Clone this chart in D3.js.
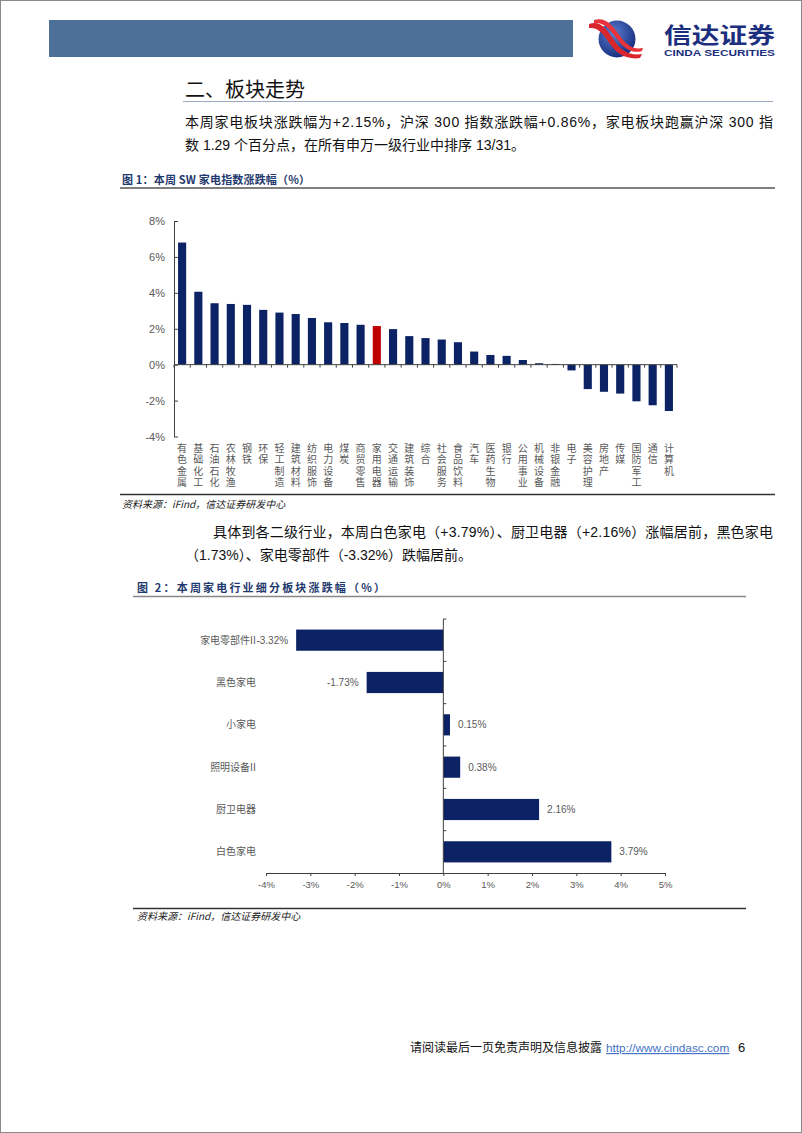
<!DOCTYPE html>
<html><head><meta charset="utf-8">
<script src="https://cdn.jsdelivr.net/npm/d3@7"></script>
<style>body{margin:0;background:#fff} svg{display:block}</style>
</head><body><svg id="page" width="802" height="1133"></svg>
<script>
// ---------- data ----------
const industries = ["有色金属","基础化工","石油石化","农林牧渔","钢铁","环保","轻工制造","建筑材料","纺织服饰","电力设备","煤炭","商贸零售","家用电器","交通运输","建筑装饰","综合","社会服务","食品饮料","汽车","医药生物","银行","公用事业","机械设备","非银金融","电子","美容护理","房地产","传媒","国防军工","通信","计算机"];
const industryChange = [6.80,4.06,3.42,3.38,3.33,3.05,2.90,2.82,2.60,2.36,2.32,2.22,2.15,1.98,1.59,1.48,1.40,1.25,0.73,0.54,0.49,0.26,0.08,0.04,-0.32,-1.36,-1.51,-1.61,-2.04,-2.26,-2.58];
const highlightIndustry = "家用电器";
const yTicks1 = [-4,-2,0,2,4,6,8];
const subSectors = ["家电零部件II","黑色家电","小家电","照明设备II","厨卫电器","白色家电"];
const subChange = [-3.32,-1.73,0.15,0.38,2.16,3.79];
const xTicks2 = [-4,-3,-2,-1,0,1,2,3,4,5];

const sectionTitle = "二、板块走势";
const para1 = ["本周家电板块涨跌幅为+2.15%，沪深 300 指数涨跌幅+0.86%，家电板块跑赢沪深 300 指",
               "数 1.29 个百分点，在所有申万一级行业中排序 13/31。"];
const para2 = ["具体到各二级行业，本周白色家电（+3.79%）、厨卫电器（+2.16%）涨幅居前，黑色家电",
               "（1.73%）、家电零部件（-3.32%）跌幅居前。"];
const fig1Title = "图 1：本周 SW 家电指数涨跌幅（%）";
const fig2Title = "图 2：本周家电行业细分板块涨跌幅（%）";
const sourceText = "资料来源：iFind，信达证券研发中心";

// ---------- styles ----------
const NAVY = "#0b2264", RED = "#c00000", GRAY = "#595959", AXIS = "#404040";
const FONT = "'Liberation Sans','Noto Sans CJK SC',sans-serif";
const CJK = "'Noto Sans CJK SC','Liberation Sans',sans-serif";

const svg = d3.select("#page");
svg.append("rect").attr("x",0.5).attr("y",0.5).attr("width",801).attr("height",1132)
   .attr("fill","#fff").attr("stroke","#8a8a8a");

// ---------- header ----------
svg.append("rect").attr("x",49).attr("y",20).attr("width",524).attr("height",37).attr("fill","#4d7098");
const defs = svg.append("defs");
const rg = defs.append("radialGradient").attr("id","lg").attr("cx","40%").attr("cy","35%").attr("r","70%");
rg.append("stop").attr("offset","0%").attr("stop-color","#5a7fd0");
rg.append("stop").attr("offset","100%").attr("stop-color","#142a7c");
const logo = svg.append("g");
logo.append("circle").attr("cx",617).attr("cy",39).attr("r",18.5).attr("fill","url(#lg)");
logo.append("path").attr("d","M589,24 C600,20 606,28 614,40 C621,51 630,56 642,54 L640,58 C627,60 617,54 610,44 C603,33 598,27 589,28 Z").attr("fill","#d9252c");
logo.append("path").attr("d","M594,20 C606,17 612,25 620,36 C627,46 634,50 643,48 L642,51 C633,54 624,49 617,39 C610,29 604,22 594,23 Z").attr("fill","#e8333a");
svg.append("text").attr("x",664).attr("y",43).attr("font-family",CJK).attr("font-weight","bold")
   .attr("font-size",22).attr("fill","#1b2f7e").attr("textLength",111).attr("lengthAdjust","spacingAndGlyphs").text("信达证券");
svg.append("text").attr("x",664).attr("y",56).attr("font-family",FONT).attr("font-weight","bold")
   .attr("font-size",9).attr("fill","#1b2f7e").attr("textLength",111).attr("lengthAdjust","spacingAndGlyphs").text("CINDA SECURITIES");

// ---------- section title & paragraph ----------
svg.append("text").attr("x",185).attr("y",97).attr("font-family",CJK).attr("font-size",20).attr("fill","#111").text(sectionTitle);
svg.append("line").attr("x1",183).attr("x2",773).attr("y1",101.5).attr("y2",101.5).attr("stroke","#9aa9bf").attr("stroke-width",1);
svg.append("text").attr("x",185).attr("y",127).attr("font-family",FONT).attr("font-size",14).attr("fill","#111")
   .attr("textLength",588).attr("lengthAdjust","spacing").text(para1[0]);
svg.append("text").attr("x",185).attr("y",150).attr("font-family",FONT).attr("font-size",14).attr("fill","#111").text(para1[1]);

// ---------- figure 1 ----------
svg.append("text").attr("x",122).attr("y",184).attr("font-family",CJK).attr("font-weight","bold").attr("font-size",11)
   .attr("fill","#1f3a6e").attr("textLength",188).attr("lengthAdjust","spacing").text(fig1Title);
svg.append("line").attr("x1",120).attr("x2",775).attr("y1",188).attr("y2",188).attr("stroke","#555").attr("stroke-width",1.5);

const x1 = d3.scaleBand().domain(industries).range([174,677]).paddingInner(0.5).paddingOuter(0.25);
const y1 = d3.scaleLinear().domain([-4,8]).range([436.5,221]);
const c1 = svg.append("g");

c1.selectAll("rect.bar").data(industries).join("rect").attr("class","bar")
  .attr("x",d=>x1(d)).attr("width",x1.bandwidth())
  .attr("y",(d,i)=>y1(Math.max(0,industryChange[i])))
  .attr("height",(d,i)=>Math.abs(y1(industryChange[i])-y1(0)))
  .attr("fill",d=>d===highlightIndustry?RED:NAVY);

const yAxis1 = c1.append("g").attr("transform","translate(174,0)")
  .call(d3.axisLeft(y1).tickValues(yTicks1).tickFormat(d=>d+"%").tickSizeInner(-4).tickSizeOuter(0).tickPadding(9));
yAxis1.select(".domain").attr("stroke",AXIS);
yAxis1.selectAll(".tick line").attr("stroke",AXIS);
yAxis1.selectAll("text").attr("font-family",FONT).attr("font-size",11).attr("fill",GRAY);

// zero baseline with category boundary ticks
const r1 = x1.range();
c1.append("line").attr("x1",r1[0]).attr("x2",r1[1]).attr("y1",y1(0)).attr("y2",y1(0)).attr("stroke",AXIS);
c1.selectAll("line.bt").data(d3.range(industries.length+1)).join("line").attr("class","bt")
  .attr("x1",i=>r1[0]+i*x1.step()).attr("x2",i=>r1[0]+i*x1.step())
  .attr("y1",y1(0)).attr("y2",y1(0)+3).attr("stroke",AXIS);

// vertical category labels (vertical writing mode)
c1.selectAll("text.cat").data(industries).join("text").attr("class","cat")
  .attr("x",d=>x1(d)+x1.bandwidth()/2).attr("y",443)
  .style("writing-mode","vertical-rl").style("text-orientation","upright")
  .attr("letter-spacing",1.5)
  .attr("font-family",CJK).attr("font-size",10).attr("fill",GRAY).text(d=>d);

svg.append("line").attr("x1",120).attr("x2",775).attr("y1",494.5).attr("y2",494.5).attr("stroke","#333").attr("stroke-width",1.5);
svg.append("text").attr("x",122).attr("y",508).attr("font-family",CJK).attr("font-style","italic").attr("font-size",10)
   .attr("fill","#222").text(sourceText);

// ---------- paragraph 2 ----------
svg.append("text").attr("x",213).attr("y",537).attr("font-family",FONT).attr("font-size",14).attr("fill","#111")
   .attr("textLength",560).attr("lengthAdjust","spacing").text(para2[0]);
svg.append("text").attr("x",185).attr("y",560).attr("font-family",FONT).attr("font-size",14).attr("fill","#111").text(para2[1]);

// ---------- figure 2 ----------
svg.append("text").attr("x",137).attr("y",592).attr("font-family",CJK).attr("font-weight","bold").attr("font-size",11)
   .attr("fill","#1f3a6e").attr("textLength",248).attr("lengthAdjust","spacing").text(fig2Title);
svg.append("line").attr("x1",133).attr("x2",746).attr("y1",596.5).attr("y2",596.5).attr("stroke","#888").attr("stroke-width",1.5);

const x2 = d3.scaleLinear().domain([-4,5]).range([266,665]);
const y2 = d3.scaleBand().domain(subSectors).range([619,873]).paddingInner(0.5).paddingOuter(0.25);
const c2 = svg.append("g");

c2.selectAll("rect.bar").data(subSectors).join("rect").attr("class","bar")
  .attr("y",d=>y2(d)).attr("height",y2.bandwidth())
  .attr("x",(d,i)=>x2(Math.min(0,subChange[i])))
  .attr("width",(d,i)=>Math.abs(x2(subChange[i])-x2(0)))
  .attr("fill",NAVY);

const xAxis2 = c2.append("g").attr("transform","translate(0,873)")
  .call(d3.axisBottom(x2).tickValues(xTicks2).tickFormat(d=>d+"%").tickSizeInner(3).tickSizeOuter(0).tickPadding(5));
xAxis2.select(".domain").attr("stroke",AXIS);
xAxis2.selectAll(".tick line").attr("stroke",AXIS);
xAxis2.selectAll("text").attr("font-family",FONT).attr("font-size",9.5).attr("fill",GRAY);

const r2 = y2.range();
c2.append("line").attr("x1",x2(0)).attr("x2",x2(0)).attr("y1",r2[0]).attr("y2",r2[1]).attr("stroke",AXIS);
c2.selectAll("line.bt").data(d3.range(subSectors.length)).join("line").attr("class","bt")
  .attr("x1",x2(0)).attr("x2",x2(0)+3)
  .attr("y1",i=>r2[0]+i*y2.step()).attr("y2",i=>r2[0]+i*y2.step()).attr("stroke",AXIS);

c2.selectAll("text.cat").data(subSectors).join("text").attr("class","cat")
  .attr("x",256).attr("y",d=>y2(d)+y2.bandwidth()/2).attr("dy","0.35em")
  .attr("text-anchor","end").attr("font-family",CJK).attr("font-size",10).attr("fill",GRAY).text(d=>d);

c2.selectAll("text.val").data(subChange).join("text").attr("class","val")
  .attr("x",d=>d<0? x2(d)-8 : x2(d)+8)
  .attr("y",(d,i)=>y2(subSectors[i])+y2.bandwidth()/2).attr("dy","0.35em")
  .attr("text-anchor",d=>d<0?"end":"start").attr("font-family",FONT).attr("font-size",10).attr("fill",GRAY)
  .text(d=>d.toFixed(2)+"%");

svg.append("line").attr("x1",133).attr("x2",746).attr("y1",908.5).attr("y2",908.5).attr("stroke","#333").attr("stroke-width",1.5);
svg.append("text").attr("x",137).attr("y",920).attr("font-family",CJK).attr("font-style","italic").attr("font-size",10)
   .attr("fill","#222").text(sourceText);

// ---------- footer ----------
svg.append("text").attr("x",410).attr("y",1052).attr("font-family",CJK).attr("font-size",12).attr("fill","#111")
   .attr("textLength",192).attr("lengthAdjust","spacingAndGlyphs").text("请阅读最后一页免责声明及信息披露");
svg.append("text").attr("x",606).attr("y",1052).attr("font-family",FONT).attr("font-size",11.8).attr("fill","#4472c4")
   .attr("text-decoration","underline").text("http://www.cindasc.com");
svg.append("text").attr("x",738).attr("y",1052).attr("font-family",FONT).attr("font-size",13).attr("fill","#111").text("6");
</script></body></html>
